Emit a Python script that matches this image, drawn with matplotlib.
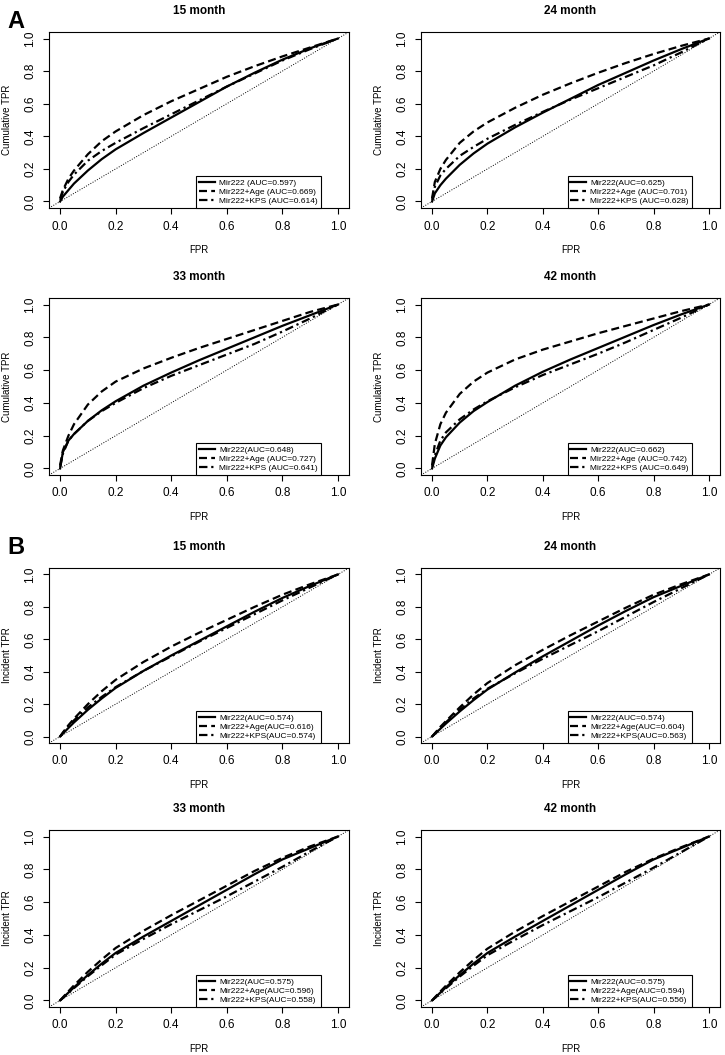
import numpy as np
import matplotlib.pyplot as plt

plt.rcParams['font.family'] = ['Liberation Sans', 'DejaVu Sans']

# FPR grid
fpr = [0, 0.01, 0.03, 0.05, 0.1, 0.15, 0.2, 0.3, 0.4, 0.5, 0.6, 0.7, 0.8, 0.9, 1.0]

titles = ['15 month', '24 month', '33 month', '42 month']

# A: cumulative TPR
a_mir = [
    [0, 0.03, 0.07, 0.11, 0.19, 0.26, 0.32, 0.42, 0.515, 0.61, 0.705, 0.79, 0.87, 0.94, 1.0],
    [0, 0.05, 0.10, 0.14, 0.225, 0.295, 0.355, 0.455, 0.545, 0.63, 0.715, 0.79, 0.865, 0.935, 1.0],
    [0, 0.10, 0.17, 0.21, 0.29, 0.355, 0.41, 0.505, 0.585, 0.66, 0.73, 0.80, 0.87, 0.935, 1.0],
    [0, 0.06, 0.14, 0.19, 0.28, 0.35, 0.405, 0.505, 0.59, 0.665, 0.735, 0.805, 0.875, 0.94, 1.0],
]
a_age = [
    [0.02, 0.07, 0.14, 0.19, 0.29, 0.37, 0.43, 0.53, 0.615, 0.69, 0.765, 0.83, 0.89, 0.945, 1.0],
    [0.02, 0.12, 0.20, 0.255, 0.36, 0.43, 0.485, 0.575, 0.655, 0.725, 0.79, 0.85, 0.905, 0.955, 1.0],
    [0.02, 0.11, 0.20, 0.27, 0.39, 0.47, 0.53, 0.61, 0.675, 0.735, 0.79, 0.845, 0.90, 0.955, 1.0],
    [0.02, 0.15, 0.27, 0.34, 0.455, 0.53, 0.585, 0.665, 0.725, 0.775, 0.825, 0.87, 0.915, 0.96, 1.0],
]
a_kps = [
    [0.01, 0.06, 0.12, 0.165, 0.25, 0.31, 0.36, 0.45, 0.535, 0.62, 0.705, 0.785, 0.865, 0.935, 1.0],
    [0.01, 0.09, 0.16, 0.20, 0.28, 0.335, 0.385, 0.47, 0.55, 0.625, 0.695, 0.765, 0.835, 0.915, 1.0],
    [0.01, 0.09, 0.17, 0.21, 0.29, 0.35, 0.40, 0.49, 0.565, 0.63, 0.695, 0.76, 0.835, 0.915, 1.0],
    [0.01, 0.08, 0.17, 0.22, 0.30, 0.36, 0.41, 0.495, 0.57, 0.635, 0.70, 0.77, 0.845, 0.92, 1.0],
]
a_labels = [
    ['Mir222 (AUC=0.597)', 'Mir222+Age (AUC=0.669)', 'Mir222+KPS (AUC=0.614)'],
    ['Mir222(AUC=0.625)', 'Mir222+Age (AUC=0.701)', 'Mir222+KPS (AUC=0.628)'],
    ['Mir222(AUC=0.648)', 'Mir222+Age (AUC=0.727)', 'Mir222+KPS (AUC=0.641)'],
    ['Mir222(AUC=0.662)', 'Mir222+Age (AUC=0.742)', 'Mir222+KPS (AUC=0.649)'],
]

# B: incident TPR
b_mir = [
    [0, 0.018, 0.053, 0.087, 0.165, 0.235, 0.30, 0.405, 0.50, 0.59, 0.68, 0.77, 0.855, 0.93, 1.0],
    [0, 0.016, 0.048, 0.08, 0.155, 0.225, 0.29, 0.395, 0.495, 0.59, 0.685, 0.775, 0.86, 0.93, 1.0],
    [0, 0.016, 0.048, 0.08, 0.155, 0.225, 0.29, 0.39, 0.485, 0.58, 0.675, 0.77, 0.86, 0.93, 1.0],
    [0, 0.016, 0.048, 0.08, 0.155, 0.225, 0.29, 0.39, 0.485, 0.58, 0.675, 0.77, 0.86, 0.93, 1.0],
]
b_age = [
    [0, 0.025, 0.07, 0.11, 0.20, 0.28, 0.35, 0.46, 0.555, 0.64, 0.72, 0.80, 0.875, 0.94, 1.0],
    [0, 0.02, 0.06, 0.095, 0.18, 0.26, 0.33, 0.44, 0.535, 0.625, 0.71, 0.795, 0.875, 0.94, 1.0],
    [0, 0.019, 0.056, 0.092, 0.175, 0.25, 0.32, 0.425, 0.52, 0.61, 0.70, 0.79, 0.87, 0.94, 1.0],
    [0, 0.019, 0.055, 0.09, 0.172, 0.247, 0.316, 0.42, 0.515, 0.605, 0.695, 0.785, 0.865, 0.935, 1.0],
]
b_kps = [
    [0, 0.022, 0.064, 0.10, 0.18, 0.245, 0.305, 0.405, 0.495, 0.585, 0.67, 0.755, 0.84, 0.92, 1.0],
    [0, 0.018, 0.054, 0.088, 0.165, 0.235, 0.295, 0.39, 0.48, 0.565, 0.65, 0.74, 0.83, 0.915, 1.0],
    [0, 0.015, 0.045, 0.075, 0.148, 0.215, 0.28, 0.375, 0.465, 0.55, 0.635, 0.725, 0.815, 0.91, 1.0],
    [0, 0.015, 0.045, 0.074, 0.146, 0.212, 0.276, 0.37, 0.46, 0.545, 0.63, 0.72, 0.81, 0.905, 1.0],
]
b_labels = [
    ['Mir222(AUC=0.574)', 'Mir222+Age(AUC=0.616)', 'Mir222+KPS(AUC=0.574)'],
    ['Mir222(AUC=0.574)', 'Mir222+Age(AUC=0.604)', 'Mir222+KPS(AUC=0.563)'],
    ['Mir222(AUC=0.575)', 'Mir222+Age(AUC=0.596)', 'Mir222+KPS(AUC=0.558)'],
    ['Mir222(AUC=0.575)', 'Mir222+Age(AUC=0.594)', 'Mir222+KPS(AUC=0.556)'],
]

W, H = 725, 1055
fig = plt.figure(figsize=(W / 100, H / 100), dpi=100)

# axes boxes in pixels (left, right) and (top, bottom)
cols = [(49, 349), (421, 720)]
rows = [(32, 208), (298, 475), (568, 743), (830, 1007)]

ticks = [0.0, 0.2, 0.4, 0.6, 0.8, 1.0]
dash = (0, (3.6, 1.9))
dashdot = (0, (3.8, 1.7, 1.0, 1.7))


def draw_panel(ax, title, ylab, mir, age, kps, labels):
    ax.axline((0, 0), (1, 1), color='black', lw=0.7, linestyle=(0, (1, 1.6)))
    ax.plot(fpr, mir, color='black', lw=1.6, linestyle='-', label=labels[0])
    ax.plot(fpr, age, color='black', lw=1.6, linestyle=dash, label=labels[1])
    ax.plot(fpr, kps, color='black', lw=1.6, linestyle=dashdot, label=labels[2])
    ax.set_xlim(-0.04, 1.04)
    ax.set_ylim(-0.04, 1.04)
    ax.set_xticks(ticks)
    ax.set_yticks(ticks)
    ax.set_xticklabels(['%.1f' % t for t in ticks])
    ax.set_yticklabels(['%.1f' % t for t in ticks], rotation=90, va='center')
    ax.tick_params(direction='out', length=4, width=0.8, labelsize=8.5, pad=5)
    for s in ax.spines.values():
        s.set_linewidth(0.8)
    ax.set_title(title, fontsize=8.5, fontweight='bold', pad=13)
    ax.set_xlabel('FPR', fontsize=7, labelpad=9)
    ax.set_ylabel(ylab, fontsize=7, labelpad=9)
    leg = ax.legend(loc='lower left', bbox_to_anchor=(0.49, 0.0, 0.417, 0.22), mode='expand',
                    borderaxespad=0, fontsize=6, handlelength=1.9, handletextpad=0.5,
                    labelspacing=0.15, borderpad=0.35, fancybox=False, framealpha=1)
    leg.get_frame().set_edgecolor('black')
    leg.get_frame().set_linewidth(0.8)


for k in range(8):
    r, c = divmod(k, 2)
    l, rr = cols[c]
    t, b = rows[r]
    ax = fig.add_axes([l / W, 1 - b / H, (rr - l) / W, (b - t) / H])
    i = k % 4
    if r < 2:
        draw_panel(ax, titles[i], 'Cumulative TPR', a_mir[i], a_age[i], a_kps[i], a_labels[i])
    else:
        draw_panel(ax, titles[i], 'Incident TPR', b_mir[i], b_age[i], b_kps[i], b_labels[i])

fig.text(16 / W, 1 - 21 / H, 'A', fontsize=17, fontweight='bold', ha='center', va='center')
fig.text(16 / W, 1 - 547 / H, 'B', fontsize=17, fontweight='bold', ha='center', va='center')

fig.savefig('out.png', dpi=100)
